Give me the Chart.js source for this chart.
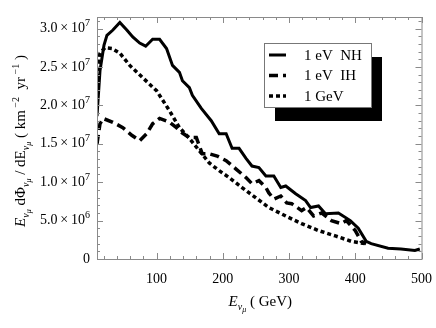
<!DOCTYPE html>
<html>
<head>
<meta charset="utf-8">
<script src="https://cdn.jsdelivr.net/npm/chart.js@4.4.1/dist/chart.umd.min.js"></script>
<style>
  html, body { margin: 0; padding: 0; background: #fff; }
  #wrap { width: 436px; height: 328px; position: relative; }
</style>
</head>
<body>
<div id="wrap"><canvas id="chartFlux"></canvas></div>
<script>
// ── data (flux in units of 1e6 km^-2 yr^-1) ───────────────
const nhE = [10, 14.5, 20.5, 25, 34, 44.5, 55, 64, 74.5, 83.5, 94, 104.5, 115, 124, 134.5, 139, 149.5, 154,
  167.5, 182.5, 194.5, 205, 214, 224.5, 235, 244, 254.5, 265, 277, 287.5, 295, 310, 325, 332.5, 344.5,
  355, 374.5, 392.5, 404.5, 416.5, 424, 449.5, 469, 490, 497.5];
const nhFlux = [18.6, 24.5, 27.8, 29.1, 29.8, 30.8, 29.8, 28.9, 28.1, 27.7, 28.6, 28.6, 27.4, 25.2, 24.3, 23.2, 22.3, 21.3,
  19.6, 18.0, 16.3, 16.3, 14.4, 14.4, 13.1, 12.1, 11.9, 10.8, 10.8, 9.3, 9.5, 8.5, 7.6, 6.7, 6.9,
  5.9, 6.0, 5.0, 4.0, 2.3, 2.0, 1.4, 1.3, 1.1, 1.3];

const ihE = [10, 14.5, 19, 34, 49, 62.5, 74.5, 85, 94, 104.5, 119.5, 130, 139, 149.5, 160, 169, 179.5, 191.5,
  205, 220, 235, 244, 254.5, 265, 269.5, 277, 287.5, 296.5, 304, 319, 326.5, 337, 349, 364, 379, 386.5,
  400, 409, 416.5];
const ihFlux = [15.0, 17.6, 18.3, 17.8, 17.1, 16.1, 15.4, 16.3, 17.6, 18.3, 17.8, 17.1, 16.4, 15.8, 15.8, 13.7, 13.7, 13.4,
  12.8, 11.7, 10.6, 9.8, 10.2, 9.3, 8.6, 7.8, 8.2, 7.3, 7.2, 6.3, 6.7, 5.6, 6.0, 5.0, 4.6, 5.0,
  3.7, 2.3, 2.0];

const gevE = [10, 14.5, 22, 32.5, 44.5, 59.5, 79, 100, 119.5, 134.5, 149.5, 164.5, 179.5, 194.5, 209.5, 229,
  269.5, 295, 319, 344.5, 370, 394, 415];
const gevFlux = [23.6, 26.8, 27.5, 27.4, 26.8, 25.2, 23.6, 21.9, 19.3, 17.1, 15.7, 14.1, 12.5, 11.5, 10.6, 9.3,
  6.7, 5.6, 4.6, 3.7, 3.0, 2.3, 2.0];

const seriesNames = ['1 eV  NH', '1 eV  IH', '1 GeV'];
const xTicks = [100, 200, 300, 400, 500];
const yTicks = [0, 5, 10, 15, 20, 25, 30];   // x 1e6

const SERIF = '"Liberation Serif", "DejaVu Serif", serif';
const FRAME = '#8a8a8a';

const toPoints = (xs, ys) => xs.map((x, i) => ({ x, y: ys[i] }));

// draw a run of text pieces with different fonts / baseline shifts
function richWidth(ctx, parts) {
  let w = 0;
  parts.forEach(p => { ctx.font = p.f; w += ctx.measureText(p.t).width; });
  return w;
}
function drawRich(ctx, parts, x, y) {
  let cx = x - richWidth(ctx, parts) / 2;
  parts.forEach(p => {
    ctx.font = p.f;
    ctx.fillText(p.t, cx, y + (p.dy || 0));
    cx += ctx.measureText(p.t).width;
  });
}

const big = '14px ' + SERIF, bigI = 'italic 14px ' + SERIF;
const tbig = '15px ' + SERIF, tbigI = 'italic 15px ' + SERIF;
const sub = 'italic 10px ' + SERIF, sub2 = 'italic 8px ' + SERIF, sup = '10px ' + SERIF;
const enu = [
  { t: 'E', f: tbigI }, { t: 'ν', f: sub, dy: 4 }, { t: 'μ', f: sub2, dy: 6 },
];
const yTitle = [
  ...enu,
  { t: ' dΦ', f: tbig }, { t: 'ν', f: sub, dy: 4 }, { t: 'μ', f: sub2, dy: 6 },
  { t: ' / dE', f: tbig }, { t: 'ν', f: sub, dy: 4 }, { t: 'μ', f: sub2, dy: 6 },
  { t: ' ( km', f: tbig }, { t: ' −2', f: sup, dy: -6 },
  { t: '  yr', f: tbig }, { t: ' −1', f: sup, dy: -6 }, { t: ' )', f: tbig },
];
const xTitle = [...enu, { t: ' ( GeV)', f: tbig }];

// ── frame, ticks, labels, legend ──────────────────────────
const decor = {
  id: 'decor',
  afterDraw(chart) {
    const { ctx, chartArea: a, scales: { x, y } } = chart;
    ctx.save();
    ctx.strokeStyle = FRAME;
    ctx.lineWidth = 1;
    ctx.strokeRect(a.left + 0.5, a.top + 0.5, a.right - a.left, a.bottom - a.top);

    ctx.beginPath();
    for (let v = 20; v <= 500; v += 20) {
      const px = Math.round(x.getPixelForValue(v)) + 0.5;
      const len = v % 100 === 0 ? 6 : 3;
      ctx.moveTo(px, a.bottom); ctx.lineTo(px, a.bottom - len);
      ctx.moveTo(px, a.top); ctx.lineTo(px, a.top + len);
    }
    for (let v = 0; v <= 31; v += 1) {
      const py = Math.round(y.getPixelForValue(v)) + 0.5;
      const len = v % 5 === 0 ? 6 : 3;
      ctx.moveTo(a.left, py); ctx.lineTo(a.left + len, py);
      ctx.moveTo(a.right, py); ctx.lineTo(a.right - len, py);
    }
    ctx.stroke();

    // y tick labels  m.m × 10^e
    ctx.fillStyle = '#000';
    ctx.textBaseline = 'middle';
    y.ticks.forEach(t => {
      const py = y.getPixelForValue(t.value);
      const right = a.left - 7;
      if (t.value === 0) {
        ctx.font = big; ctx.textAlign = 'right';
        ctx.fillText('0', right, py);
        return;
      }
      const real = t.value * 1e6;
      const e = Math.floor(Math.log10(real));
      const m = (real / Math.pow(10, e)).toFixed(1);
      const parts = [{ t: m + '\u2009×\u200910', f: big }, { t: String(e), f: sup, dy: -5 }];
      ctx.textAlign = 'left';
      const w = richWidth(ctx, parts);
      drawRich(ctx, parts, right - w / 2, py);
    });

    // axis titles
    ctx.textAlign = 'left';
    ctx.textBaseline = 'alphabetic';
    drawRich(ctx, xTitle, (a.left + a.right) / 2 + 1, 306);
    ctx.save();
    ctx.translate(25, (a.top + a.bottom) / 2 + 3);
    ctx.rotate(-Math.PI / 2);
    drawRich(ctx, yTitle, 0, 0);
    ctx.restore();

    // legend with drop shadow
    const lx = 264, ly = 43, lw = 107, lh = 64;
    ctx.fillStyle = '#000';
    ctx.fillRect(lx + 11, ly + 14, lw, lh);
    ctx.fillStyle = '#fff';
    ctx.fillRect(lx, ly, lw, lh);
    ctx.strokeStyle = '#777';
    ctx.strokeRect(lx + 0.5, ly + 0.5, lw, lh);
    chart.data.datasets.forEach((ds, i) => {
      const cy = ly + 12 + i * 20.5;
      ctx.strokeStyle = '#000';
      ctx.lineWidth = ds.borderWidth;
      ctx.setLineDash(ds.borderDash || []);
      ctx.beginPath();
      ctx.moveTo(lx + 5, cy); ctx.lineTo(lx + 22, cy);
      ctx.stroke();
      ctx.setLineDash([]);
      ctx.fillStyle = '#000';
      ctx.font = '15px ' + SERIF;
      ctx.textBaseline = 'middle';
      ctx.fillText(ds.label, lx + 40, cy + 1);
    });
    ctx.restore();
  },
};

new Chart(document.getElementById('chartFlux'), {
  type: 'line',
  data: {
    datasets: [
      { label: seriesNames[0], data: toPoints(nhE, nhFlux), borderWidth: 3 },
      { label: seriesNames[1], data: toPoints(ihE, ihFlux), borderWidth: 3.5, borderDash: [9, 5] },
      { label: seriesNames[2], data: toPoints(gevE, gevFlux), borderWidth: 3.5, borderDash: [4, 3] },
    ].map(ds => ({ ...ds, borderColor: '#000', pointRadius: 0, tension: 0, fill: false })),
  },
  options: {
    responsive: true,
    maintainAspectRatio: false,
    animation: false,
    layout: { padding: { top: 17, right: 11, left: 0, bottom: 0 } },
    plugins: { legend: { display: false }, tooltip: { enabled: false } },
    scales: {
      x: {
        type: 'linear', min: 10, max: 500,
        grid: { display: false }, border: { display: false },
        afterBuildTicks: s => { s.ticks = xTicks.map(value => ({ value })); },
        afterFit: s => { s.height = 69; },
        ticks: { color: '#000', font: { family: SERIF, size: 14 }, padding: 4, maxRotation: 0, autoSkip: false },
      },
      y: {
        min: 0, max: 31.5,
        grid: { display: false }, border: { display: false },
        afterBuildTicks: s => { s.ticks = yTicks.map(value => ({ value })); },
        afterFit: s => { s.width = 97; },
        ticks: { display: false },
      },
    },
  },
  plugins: [decor],
});
</script>
</body>
</html>
